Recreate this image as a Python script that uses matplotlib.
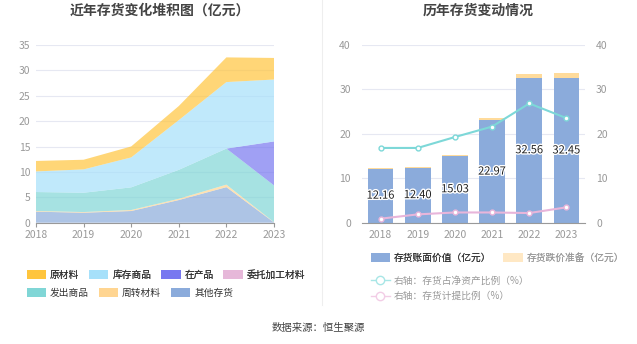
import matplotlib.pyplot as plt
import matplotlib.patheffects as pe
import numpy as np
from matplotlib.patches import Patch
from matplotlib.lines import Line2D

plt.rcParams['font.family'] = ['Noto Sans CJK SC', 'DejaVu Sans']

years = ['2018', '2019', '2020', '2021', '2022', '2023']

# 左图：各类存货（亿元），堆积顺序由下往上
other = [2.17, 1.97, 2.30, 4.46, 7.00, 0.05]       # 其他存货
turnover = [0.13, 0.13, 0.20, 0.25, 0.50, 0.05]    # 周转材料
shipped = [3.74, 3.80, 4.46, 5.70, 7.10, 7.25]     # 发出商品
consigned = [0, 0, 0, 0, 0, 0]                     # 委托加工材料
wip = [0, 0, 0, 0, 0, 8.65]                        # 在产品
goods = [4.06, 4.60, 5.90, 9.80, 13.10, 12.20]     # 库存商品
raw = [2.06, 1.90, 2.16, 2.77, 4.86, 4.25]         # 原材料

# 右图
book_value = [12.16, 12.40, 15.03, 22.97, 32.56, 32.45]
provision = [0.10, 0.15, 0.25, 0.50, 0.75, 1.10]
ratio_net = [16.8, 16.8, 19.25, 21.6, 26.8, 23.5]
ratio_prov = [0.9, 1.87, 2.3, 2.3, 2.17, 3.45]

c_raw = '#FFC53D'
c_goods = '#A6E0FA'
c_wip = '#7878F0'
c_cons = '#E6B8D9'
c_ship = '#80D6D6'
c_turn = '#FFD591'
c_other = '#8BABDB'

grid_c = '#E6E8F2'
tick_c = '#999999'

fig = plt.figure(figsize=(6.37, 3.44), dpi=100)

# ---------- 左图 ----------
ax1 = fig.add_axes([36/637, 1-222.7/344, 238/637, 177.7/344])
x = np.arange(len(years))
series = [other, turnover, shipped, consigned, wip, goods, raw]
cols = [c_other, c_turn, c_ship, c_cons, c_wip, c_goods, c_raw]
ax1.stackplot(x, *series, colors=cols, alpha=0.7, linewidth=0)
ax1.set_xlim(0, 5)
ax1.set_ylim(0, 35)
ax1.set_yticks(range(0, 36, 5))
ax1.set_xticks(x)
ax1.set_xticklabels(years)
ax1.grid(axis='y', color=grid_c, linewidth=0.8)
ax1.set_axisbelow(True)
for s in ['top', 'right', 'left']:
    ax1.spines[s].set_visible(False)
ax1.spines['bottom'].set_color('#999999')
ax1.tick_params(axis='y', length=0, labelsize=7.5, colors=tick_c, pad=4)
ax1.tick_params(axis='x', length=3, labelsize=7.5, colors=tick_c, pad=2, color='#999999')
fig.text(160/637, 1-11/344, '近年存货变化堆积图（亿元）', ha='center', va='center',
         fontsize=10, fontweight='bold', color='#444444')

leg_names = ['原材料', '库存商品', '在产品', '委托加工材料', '发出商品', '周转材料', '其他存货']
leg_cols = [c_raw, c_goods, c_wip, c_cons, c_ship, c_turn, c_other]
handles = [Patch(facecolor=c, edgecolor='none') for c in leg_cols]
leg1 = fig.legend(handles[:4], leg_names[:4], loc='center left', bbox_to_anchor=(18/637, 1-275/344),
                  ncol=4, frameon=False, fontsize=7, handlelength=2.0, handleheight=1.0,
                  columnspacing=1.0, handletextpad=0.4, labelcolor='#333333')
leg2 = fig.legend(handles[4:], leg_names[4:], loc='center left', bbox_to_anchor=(18/637, 1-293/344),
                  ncol=3, frameon=False, fontsize=7, handlelength=2.0, handleheight=1.0,
                  columnspacing=1.0, handletextpad=0.4, labelcolor='#333333')
fig.add_artist(leg1)

# ---------- 右图 ----------
ax2 = fig.add_axes([362/637, 1-222.7/344, 223/637, 178/344])
ax2.bar(x, book_value, width=0.69, color=c_other, zorder=2)
ax2.bar(x, provision, width=0.69, bottom=book_value, color='#FFDB9B', zorder=2)
for i, v in enumerate(book_value):
    ax2.text(i, v / 2, f'{v:.2f}', ha='center', va='center', fontsize=8, color='#222222', zorder=4,
             path_effects=[pe.withStroke(linewidth=2, foreground='white')])
ax2.set_xlim(-0.5, 5.5)
ax2.set_ylim(0, 40)
ax2.set_yticks(range(0, 41, 10))
ax2.set_xticks(x)
ax2.set_xticklabels(years)
ax2.grid(axis='y', color=grid_c, linewidth=0.8)
ax2.set_axisbelow(True)
for s in ['top', 'right', 'left']:
    ax2.spines[s].set_visible(False)
ax2.spines['bottom'].set_color('#999999')
ax2.tick_params(axis='y', length=0, labelsize=7.5, colors=tick_c, pad=8)
ax2.tick_params(axis='x', length=0, labelsize=7.5, colors=tick_c, pad=5)

ax3 = ax2.twinx()
ax3.set_ylim(0, 40)
ax3.set_yticks(range(0, 41, 10))
ax3.plot(x, ratio_net, color='#7DD8D8', linewidth=1.5, marker='o', markersize=3.5,
         markerfacecolor='white', markeredgewidth=1, zorder=3)
ax3.plot(x, ratio_prov, color='#E8B5DA', linewidth=1.5, marker='o', markersize=3.5,
         markerfacecolor='white', markeredgewidth=1, zorder=3)
for s in ['top', 'right', 'left', 'bottom']:
    ax3.spines[s].set_visible(False)
ax3.tick_params(axis='y', length=0, labelsize=7.5, colors=tick_c, pad=8)

fig.text(478/637, 1-11/344, '历年存货变动情况', ha='center', va='center',
         fontsize=10, fontweight='bold', color='#444444')

h_r = [Patch(facecolor=c_other, edgecolor='none'), Patch(facecolor='#FFE8C4', edgecolor='none')]
leg3 = fig.legend(h_r, ['存货账面价值（亿元）', '存货跌价准备（亿元）'], loc='center left',
                  bbox_to_anchor=(362/637, 1-258/344), ncol=2, frameon=False, fontsize=7,
                  handlelength=2.0, handleheight=1.0, columnspacing=1.2, handletextpad=0.4)
leg3.get_texts()[0].set_color('#333333')
leg3.get_texts()[1].set_color('#999999')
fig.add_artist(leg3)
h_l = [Line2D([], [], color='#A8E6E6', marker='o', markerfacecolor='white', markersize=6, linewidth=1),
       Line2D([], [], color='#F2CDE6', marker='o', markerfacecolor='white', markersize=6, linewidth=1)]
leg4 = fig.legend(h_l, ['右轴：存货占净资产比例（%）', '右轴：存货计提比例（%）'], loc='upper left',
                  bbox_to_anchor=(362/637, 1-267/344), ncol=1, frameon=False, fontsize=7,
                  handlelength=2.0, handletextpad=0.4, labelspacing=0.55, labelcolor='#999999')

# 分隔线
fig.add_artist(Line2D([321.5/637, 321.5/637], [1-305/344, 1.0], color='#EEEEEE', linewidth=0.8))

fig.text(318/637, 1-328/344, '数据来源：恒生聚源', ha='center', va='center', fontsize=7.5, color='#444444')

fig.savefig('out.png', dpi=100)
